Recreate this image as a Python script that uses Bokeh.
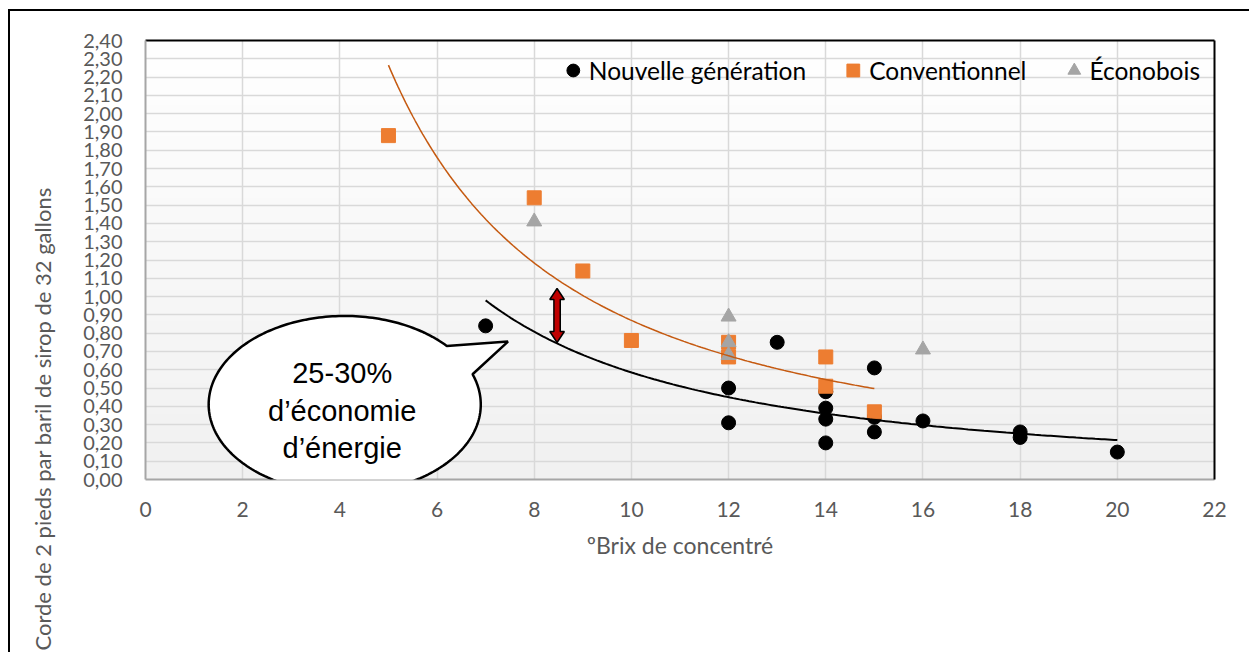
import numpy as np
from bokeh.plotting import figure
from bokeh.models import (FixedTicker, LinearAxis, Legend, LegendItem, Label,
                          PolyAnnotation, Range1d, Title)
from bokeh.embed import file_html
from bokeh.resources import INLINE

# ---------------- data ----------------
ng_x = [7, 12, 12, 13, 14, 14, 14, 14, 15, 15, 15, 16, 18, 18, 20]
ng_y = [0.84, 0.50, 0.31, 0.75, 0.48, 0.39, 0.33, 0.20, 0.61, 0.34, 0.26, 0.32, 0.26, 0.23, 0.15]

conv_x = [5, 8, 9, 10, 12, 12, 14, 14, 15]
conv_y = [1.88, 1.54, 1.14, 0.76, 0.75, 0.67, 0.67, 0.51, 0.37]

eco_x = [8, 12, 12, 12, 16]
eco_y = [1.41, 0.89, 0.75, 0.68, 0.71]

series_names = ["Nouvelle génération", "Conventionnel", "Éconobois"]

x_ticks = [0, 2, 4, 6, 8, 10, 12, 14, 16, 18, 20, 22]
y_ticks = [0.0, 0.1, 0.2, 0.3, 0.4, 0.5, 0.6, 0.7, 0.8, 0.9, 1.0, 1.1, 1.2,
           1.3, 1.4, 1.5, 1.6, 1.7, 1.8, 1.9, 2.0, 2.1, 2.2, 2.3, 2.4]
y_tick_labels = ["0,00", "0,10", "0,20", "0,30", "0,40", "0,50", "0,60", "0,70",
                 "0,80", "0,90", "1,00", "1,10", "1,20", "1,30", "1,40", "1,50",
                 "1,60", "1,70", "1,80", "1,90", "2,00", "2,10", "2,20", "2,30", "2,40"]

x_title = "ºBrix de concentré"
y_title = "Corde de 2 pieds par baril de sirop de 32 gallons"
callout_lines = ["25-30%", "d’économie", "d’énergie"]

# ---------------- styles ----------------
BLACK = "#000000"
ORANGE = "#ED7D31"
ORANGE_LINE = "#C55A11"
GRAY = "#A5A5A5"
TICK_COLOR = "#595959"
GRID = "#d9d9d9"
AXIS_GRAY = "#a6a6a6"
FONT = "Lato"

p = figure(frame_width=1069, frame_height=439, output_backend="svg", toolbar_location=None,
           x_range=Range1d(0, 22), y_range=Range1d(0, 2.4),
           min_border_left=145, min_border_right=35, min_border_top=40,
           min_border_bottom=173)
p.outline_line_color = None
p.background_fill_color = "white"
p.border_fill_color = "white"
# thin black frame of the original picture (top and left edges)
p.stylesheets = [":host::after { content: ''; position: absolute; left: 8px; top: 9px;"
                 " right: 0px; bottom: 0px; border-top: 2px solid #000;"
                 " border-left: 2px solid #000; pointer-events: none; }"]

# gradient plot-area background (white at top -> light gray at bottom)
n = 128
shade = np.linspace(241, 255, n).astype(np.uint8)
img = np.zeros((n, 1), dtype=np.uint32)
view = img.view(dtype=np.uint8).reshape((n, 1, 4))
view[:, 0, 0] = shade
view[:, 0, 1] = shade
view[:, 0, 2] = shade
view[:, 0, 3] = 255
p.image_rgba(image=[img], x=0, y=0, dw=22, dh=2.4, level="image")

# grids
p.xgrid.ticker = FixedTicker(ticks=x_ticks)
p.ygrid.ticker = FixedTicker(ticks=y_ticks)
p.grid.grid_line_color = GRID
p.grid.grid_line_width = 1.5

# axes
p.xaxis.ticker = FixedTicker(ticks=x_ticks)
p.yaxis.ticker = FixedTicker(ticks=y_ticks)
p.yaxis.major_label_overrides = dict(zip(y_ticks, y_tick_labels))
for ax in (p.xaxis, p.yaxis):
    ax.major_tick_line_color = None
    ax.minor_tick_line_color = None
    ax.major_tick_out = 0
    ax.major_tick_in = 0
    ax.axis_line_color = AXIS_GRAY
    ax.axis_line_width = 2
    ax.major_label_text_font = FONT
    ax.major_label_text_color = TICK_COLOR
p.xaxis.major_label_text_font_size = "21px"
p.yaxis.major_label_text_font_size = "20px"
p.xaxis.major_label_standoff = 22
p.yaxis.major_label_standoff = 23
p.xaxis.axis_label = x_title
p.xaxis.axis_label_text_font = FONT
p.xaxis.axis_label_text_font_size = "23px"
p.xaxis.axis_label_text_font_style = "normal"
p.xaxis.axis_label_text_color = TICK_COLOR
p.xaxis.axis_label_standoff = 11

# black top and right frame edges
for loc in ("above", "right"):
    edge = LinearAxis(ticker=FixedTicker(ticks=[]), axis_line_color=BLACK,
                      axis_line_width=2, major_tick_line_color=None,
                      minor_tick_line_color=None, major_label_text_font_size="0px")
    p.add_layout(edge, loc)

# series
r_ng = p.scatter(ng_x, ng_y, marker="circle", size=14, fill_color=BLACK, line_color=BLACK)
r_conv = p.scatter(conv_x, conv_y, marker="square", size=14, fill_color=ORANGE, line_color=ORANGE)
r_eco = p.scatter(eco_x, eco_y, marker="triangle", size=15, fill_color=GRAY, line_color=GRAY)


# power trendlines fitted to each series (least squares on log-log, like Excel)
def power_fit(xs, ys):
    b, lna = np.polyfit(np.log(xs), np.log(ys), 1)
    xf = np.linspace(min(xs), max(xs), 200)
    return xf, np.exp(lna) * xf ** b


fx, fy = power_fit(conv_x, conv_y)
p.line(fx, fy, line_color=ORANGE_LINE, line_width=1.5)
fx, fy = power_fit(ng_x, ng_y)
p.line(fx, fy, line_color=BLACK, line_width=2)

# red double arrow
ax_x, ax_lo, ax_hi = 8.47, 0.749, 1.044
hw, sw, hh = 0.15, 0.065, 0.06
arrow_xs = [ax_x, ax_x + hw, ax_x + sw, ax_x + sw, ax_x + hw, ax_x,
            ax_x - hw, ax_x - sw, ax_x - sw, ax_x - hw]
arrow_ys = [ax_hi, ax_hi - hh, ax_hi - hh, ax_lo + hh, ax_lo + hh, ax_lo,
            ax_lo + hh, ax_lo + hh, ax_hi - hh, ax_hi - hh]
p.patch(arrow_xs, arrow_ys, fill_color="#C00000", line_color=BLACK, line_width=1.5)

# speech bubble callout
cx, cy, rx, ry = 4.10, 0.41, 2.80, 0.484
t = np.radians(np.linspace(41.4, 380, 240))
bx = list(cx + rx * np.cos(t)) + [7.46]
by = list(cy + ry * np.sin(t)) + [0.754]
p.add_layout(PolyAnnotation(xs=bx, ys=by, fill_color="white", fill_alpha=1.0,
                            line_color=BLACK, line_alpha=1.0, line_width=2.5))
for txt, yy in zip(callout_lines, [0.5795, 0.3745, 0.1695]):
    p.add_layout(Label(x=4.048, y=yy, text=txt, text_align="center",
                       text_baseline="alphabetic", text_font="Liberation Sans",
                       text_font_size="29px", text_color=BLACK))

# y axis title in the left panel, starting low like the original
p.add_layout(Title(text=y_title, align="left", offset=-171, vertical_align="bottom",
                   standoff=50, text_font=FONT, text_font_size="22px",
                   text_font_style="normal", text_color=TICK_COLOR), "left")

# legend (kept inside the plot area, in its empty upper-right corner)
legend = Legend(items=[LegendItem(label=series_names[0], renderers=[r_ng]),
                       LegendItem(label=series_names[1], renderers=[r_conv]),
                       LegendItem(label=series_names[2], renderers=[r_eco])],
                location="top_right", orientation="horizontal",
                glyph_width=32, glyph_height=32, label_standoff=0, spacing=31,
                padding=0, margin=14, border_line_color=None,
                background_fill_alpha=0, label_text_font=FONT,
                label_text_font_size="24.5px", label_text_color=BLACK)
p.add_layout(legend)

open("out.html", "w").write(file_html(p, INLINE))
